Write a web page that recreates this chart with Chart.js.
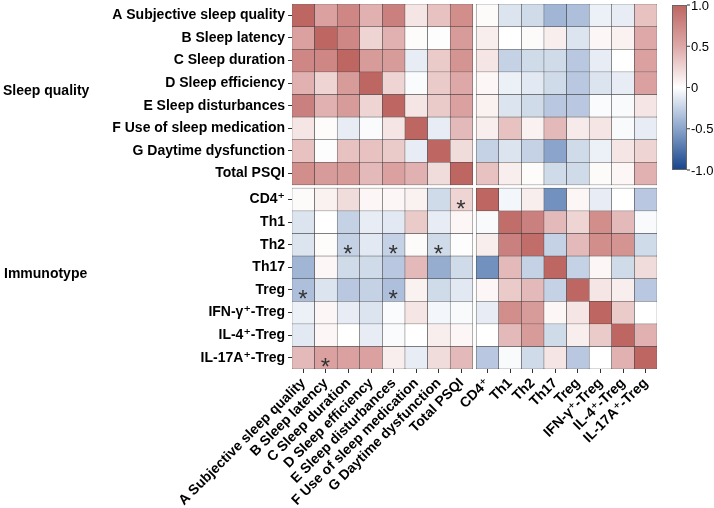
<!DOCTYPE html>
<html>
<head>
<meta charset="utf-8">
<script src="https://cdn.jsdelivr.net/npm/chart.js@4.4.1/dist/chart.umd.min.js"></script>
<style>
  html, body { margin: 0; padding: 0; background: #fff; }
</style>
</head>
<body>
<canvas id="heatmap" width="714" height="508"></canvas>
<script>
// Variables (rows top to bottom, columns left to right use the same order)
const sleepLabels = ['A Subjective sleep quality', 'B Sleep latency', 'C Sleep duration', 'D Sleep efficiency',
  'E Sleep disturbances', 'F Use of sleep medication', 'G Daytime dysfunction', 'Total PSQI'];
const immuneLabels = ['CD4⁺', 'Th1', 'Th2', 'Th17', 'Treg', 'IFN-γ⁺-Treg', 'IL-4⁺-Treg', 'IL-17A⁺-Treg'];
const groupLabels = ['Sleep quality', 'Immunotype'];

// Correlation coefficients, one row per variable
const rowA     = [1.00, 0.55, 0.75, 0.45, 0.80, 0.15, 0.35, 0.70,  0.03, -0.15, -0.20, -0.40, -0.35, -0.08, -0.10, 0.35];
const rowB     = [0.55, 1.00, 0.75, 0.25, 0.45, 0.02, 0.01, 0.60,  0.10,  0.00,  0.03,  0.10, -0.15,  0.05,  0.08, 0.50];
const rowC     = [0.75, 0.75, 1.00, 0.60, 0.60, -0.10, 0.30, 0.65, 0.15, -0.25, -0.20, -0.20, -0.30, -0.10,  0.00, 0.55];
const rowD     = [0.45, 0.25, 0.60, 1.00, 0.25, -0.02, 0.30, 0.50, 0.05, -0.08, -0.12, -0.20, -0.30, -0.15, -0.10, 0.55];
const rowE     = [0.80, 0.45, 0.60, 0.25, 1.00, 0.15, 0.30, 0.55,  0.08, -0.15, -0.20, -0.30, -0.30, -0.02, -0.03, 0.15];
const rowF     = [0.15, 0.02, -0.10, -0.02, 0.15, 1.00, -0.10, 0.40, 0.10, 0.35,  0.08,  0.40,  0.12,  0.15, -0.03, -0.10];
const rowG     = [0.35, 0.01, 0.35, 0.35, 0.30, -0.10, 1.00, 0.20, -0.25, -0.15, -0.25, -0.50, -0.20, -0.08, 0.15, 0.25];
const rowPSQI  = [0.70, 0.60, 0.60, 0.40, 0.55, 0.45, 0.20, 1.00,  0.35,  0.10,  0.02, -0.20, -0.20,  0.03,  0.05, 0.45];
const rowCD4   = [0.03, 0.08, 0.20, 0.05, 0.05, 0.08, -0.20, 0.25, 1.00, -0.05,  0.10, -0.60,  0.05, -0.10,  0.00, -0.30];
const rowTh1   = [-0.15, 0.00, -0.25, -0.10, -0.12, 0.30, -0.10, 0.05, -0.03, 0.95, 0.80, 0.40, 0.25, 0.70, 0.40, -0.03];
const rowTh2   = [-0.15, 0.02, -0.25, -0.12, -0.25, 0.03, -0.20, 0.01, 0.10, 0.80, 0.95, -0.25, 0.40, 0.70, 0.65, -0.20];
const rowTh17  = [-0.40, 0.05, -0.20, -0.20, -0.30, 0.40, -0.45, -0.20, -0.60, 0.40, -0.25, 1.00, -0.25, 0.05, -0.20, 0.20];
const rowTreg  = [-0.35, -0.15, -0.30, -0.25, -0.35, 0.08, -0.20, -0.12, 0.05, 0.30, 0.40, -0.25, 1.00, 0.15, 0.10, -0.30];
const rowIFN   = [-0.08, 0.05, -0.10, -0.15, -0.02, 0.15, -0.05, -0.03, -0.10, 0.70, 0.60, 0.05, 0.15, 1.00, 0.30, 0.00];
const rowIL4   = [-0.12, 0.05, 0.00, -0.10, -0.02, 0.00, 0.10, 0.05, 0.00, 0.40, 0.60, -0.20, 0.10, 0.30, 1.00, 0.45];
const rowIL17A = [0.40, 0.55, 0.55, 0.55, 0.10, -0.10, 0.20, 0.40, -0.30, -0.03, -0.20, 0.15, -0.30, 0.00, 0.45, 1.00];

// Significant cells marked with "*": [row, column]
const starCells = [[8, 7], [10, 2], [10, 4], [10, 6], [12, 0], [12, 4], [15, 1]];

// Colour bar ticks
const barTicks = [1.0, 0.5, 0, -0.5, -1.0];
const barTickLabels = ['1.0', '0.5', '0', '-0.5', '-1.0'];

const allLabels = sleepLabels.concat(immuneLabels);
const matrix = [rowA, rowB, rowC, rowD, rowE, rowF, rowG, rowPSQI,
  rowCD4, rowTh1, rowTh2, rowTh17, rowTreg, rowIFN, rowIL4, rowIL17A];

const GAP = 0.15; // white gap between the two blocks, in cell units
const FONT = "'Liberation Sans', Arial, 'DejaVu Sans', sans-serif";

function center(i) {
  return i + 0.5 + (i >= 8 ? GAP : 0);
}
const centers = allLabels.map((_, i) => center(i));

function labelAt(v) {
  const i = centers.findIndex(c => Math.abs(c - v) < 1e-6);
  return i >= 0 ? allLabels[i] : '';
}

// Blue - white - red colour scale
const stops = [
  [-1.0, [22, 68, 140]],
  [-0.5, [138, 164, 203]],
  [0.0, [255, 255, 255]],
  [0.5, [221, 168, 167]],
  [1.0, [190, 102, 98]]
];
function colorFor(v) {
  v = Math.max(-1, Math.min(1, v));
  for (let i = 0; i < stops.length - 1; i++) {
    const [a, ca] = stops[i];
    const [b, cb] = stops[i + 1];
    if (v >= a && v <= b) {
      const t = (v - a) / (b - a);
      const c = ca.map((x, k) => Math.round(x + (cb[k] - x) * t));
      return `rgb(${c[0]}, ${c[1]}, ${c[2]})`;
    }
  }
  return '#fff';
}

const datasets = matrix.map((row, r) => ({
  label: allLabels[r],
  stack: 'cells',
  data: row.map((v, c) => ({ x: center(c), y: [center(r) - 0.5, center(r) + 0.5] })),
  backgroundColor: row.map(colorFor),
  borderColor: '#383838',
  borderWidth: 0.5,
  borderSkipped: false,
  categoryPercentage: 1,
  barPercentage: 1
}));

// Group labels, asterisks and the colour bar
const extrasPlugin = {
  id: 'extras',
  afterDatasetsDraw(chart) {
    const { ctx, scales: { x, y }, chartArea } = chart;
    ctx.save();

    // asterisks
    ctx.fillStyle = '#333';
    ctx.font = `24px ${FONT}`;
    ctx.textAlign = 'center';
    ctx.textBaseline = 'alphabetic';
    starCells.forEach(([r, c]) => {
      ctx.fillText('*', x.getPixelForValue(center(c)) - 0.5, y.getPixelForValue(center(r)) + 17.5);
    });

    // group labels
    ctx.fillStyle = '#000';
    ctx.font = `bold 14px ${FONT}`;
    ctx.textAlign = 'left';
    ctx.textBaseline = 'middle';
    ctx.fillText(groupLabels[0], 3, y.getPixelForValue(4) - 3);
    ctx.fillText(groupLabels[1], 4, y.getPixelForValue(8 + GAP + 4) - 4);

    // colour bar
    const bx = chartArea.right + 15;
    const bw = 15;
    const top = chartArea.top + 1;
    const bottom = 170;
    const grad = ctx.createLinearGradient(0, top, 0, bottom);
    for (let k = 0; k <= 20; k++) {
      const v = 1 - k / 10;
      grad.addColorStop(k / 20, colorFor(v));
    }
    ctx.fillStyle = grad;
    ctx.fillRect(bx, top, bw, bottom - top);
    ctx.strokeStyle = '#666';
    ctx.lineWidth = 1;
    ctx.strokeRect(bx + 0.5, top + 0.5, bw - 1, bottom - top - 1);

    ctx.fillStyle = '#000';
    ctx.font = `13px ${FONT}`;
    ctx.textAlign = 'left';
    ctx.textBaseline = 'middle';
    barTicks.forEach((t, i) => {
      const py = top + (1 - t) / 2 * (bottom - top);
      ctx.beginPath();
      ctx.moveTo(bx + bw, py);
      ctx.lineTo(bx + bw + 3, py);
      ctx.strokeStyle = '#333';
      ctx.stroke();
      ctx.fillText(barTickLabels[i], bx + bw + 4, py + 1);
    });

    ctx.restore();
  }
};

new Chart(document.getElementById('heatmap'), {
  type: 'bar',
  data: { datasets },
  options: {
    responsive: false,
    animation: false,
    events: [],
    layout: { padding: { top: 4, right: 57, bottom: 0, left: 0 } },
    plugins: {
      legend: { display: false },
      tooltip: { enabled: false }
    },
    scales: {
      x: {
        type: 'linear',
        min: 0,
        max: 16 + GAP,
        offset: false,
        stacked: true,
        afterBuildTicks: s => { s.ticks = centers.map(v => ({ value: v })); },
        afterFit: s => { s.height = 139; s.paddingLeft = 0; s.paddingRight = 0; },
        grid: { display: true, offset: false, drawOnChartArea: false, drawTicks: true, tickLength: 4, color: '#333' },
        border: { display: false },
        ticks: {
          autoSkip: false,
          minRotation: 45,
          maxRotation: 45,
          padding: 2,
          color: '#000',
          font: { family: FONT, size: 14, weight: 'bold' },
          callback: v => labelAt(v)
        }
      },
      y: {
        type: 'linear',
        min: 0,
        max: 16 + GAP,
        reverse: true,
        stacked: false,
        afterBuildTicks: s => { s.ticks = centers.map(v => ({ value: v })); },
        afterFit: s => { s.width = 292; s.paddingTop = 0; s.paddingBottom = 0; },
        grid: { display: true, drawOnChartArea: false, drawTicks: true, tickLength: 4, color: '#333' },
        border: { display: false },
        ticks: {
          autoSkip: false,
          padding: 3,
          color: '#000',
          font: { family: FONT, size: 14, weight: 'bold' },
          callback: v => labelAt(v)
        }
      }
    }
  },
  plugins: [extrasPlugin]
});
</script>
</body>
</html>
